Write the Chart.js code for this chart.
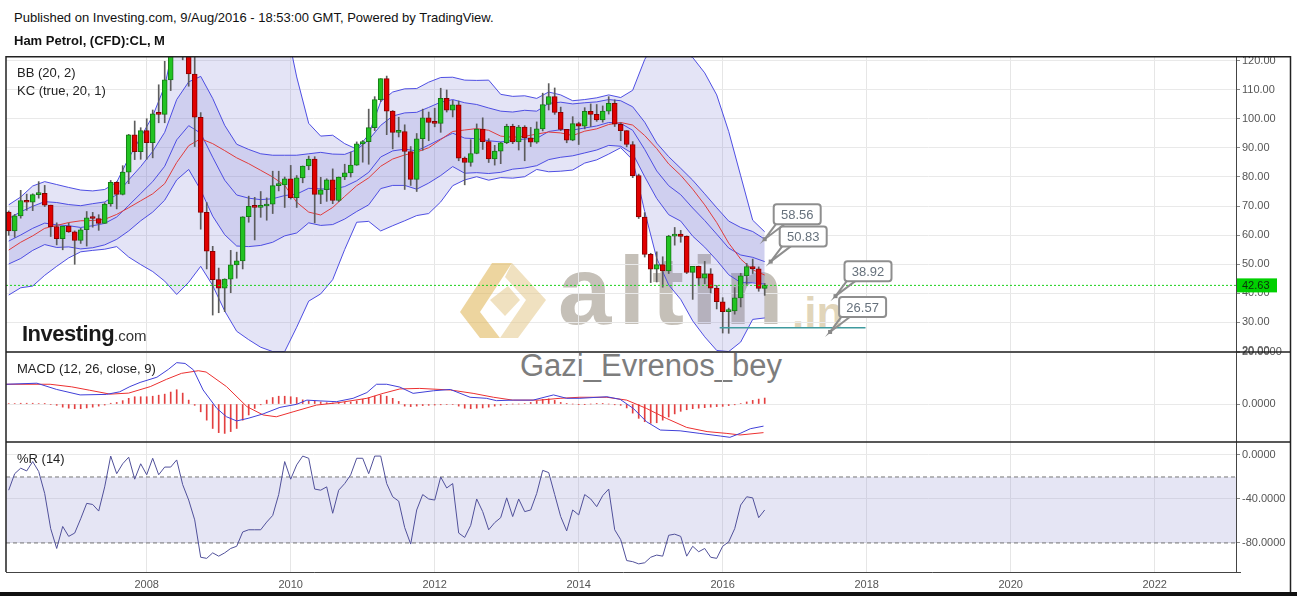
<!DOCTYPE html>
<html>
<head>
<meta charset="utf-8">
<script src="https://cdn.jsdelivr.net/npm/chart.js@4"></script>
<style>
body { margin: 0; width: 1297px; height: 596px; position: relative; overflow: hidden; background: #fff; font-family: Arial, "Liberation Sans", sans-serif; }
.t { position: absolute; white-space: nowrap; }
#c { position: absolute; left: 0; top: 56px; z-index: 1; }
.back { z-index: 0; }
.front { z-index: 2; }
</style>
</head>
<body>
<div class="t front" style="left:14px;top:10px;font-size:13px;color:#111">Published on Investing.com, 9/Aug/2016 - 18:53:00 GMT, Powered by TradingView.</div>
<div class="t front" style="left:14px;top:33px;font-size:13px;font-weight:bold;color:#111">Ham Petrol, (CFD):CL, M</div>

<div class="t back" style="left:558px;top:236px;font-size:96px;font-weight:bold;color:rgba(150,140,125,0.55);letter-spacing:7px">altin</div>
<div class="t back" style="left:792px;top:288px;font-size:44px;font-weight:bold;color:rgba(205,185,140,0.6)">.in</div>
<div class="t back" style="left:520px;top:348px;font-size:31px;color:#7d7d7d">Gazi_Evrenos_bey</div>

<canvas id="c" width="1297" height="536"></canvas>

<div class="t front" style="left:17px;top:65px;font-size:13px;color:#222">BB (20, 2)</div>
<div class="t front" style="left:17px;top:83px;font-size:13px;color:#222">KC (true, 20, 1)</div>
<div class="t front" style="left:17px;top:361px;font-size:13px;color:#222">MACD (12, 26, close, 9)</div>
<div class="t front" style="left:17px;top:451px;font-size:13px;color:#222">%R (14)</div>
<div class="t front" style="left:22px;top:321px;font-size:22px;font-weight:bold;color:#1a1a1a;letter-spacing:-0.5px">Investing<span style="font-size:15px;font-weight:normal;color:#333;letter-spacing:0">.com</span></div>
<div style="position:absolute;left:0;top:592px;width:1297px;height:4px;background:#111"></div>

<script>
// monthly candles, Feb 2006 .. Aug 2016 (month index 1 = Feb 2006)
const firstMonthIndex = 1;
const openP = [67.9,61.4,66.6,71.9,71.3,73.9,74.4,70.3,62.9,58.7,63.1,61.1,58.1,61.8,65.9,65.7,64.0,70.7,78.2,74.0,81.7,94.5,88.7,96.0,91.8,101.8,101.6,113.5,127.4,140.0,124.1,115.5,100.6,67.8,54.4,44.6,41.7,44.8,49.7,51.1,66.3,69.9,69.5,70.0,70.6,77.0,77.3,79.4,72.9,79.7,83.8,86.2,74.0,75.6,79.0,71.9,80.0,81.4,84.1,91.4,92.2,97.0,106.7,113.9,102.7,95.4,95.7,88.8,79.2,93.2,100.4,98.8,98.5,107.1,103.0,104.9,86.5,85.0,88.1,96.5,92.2,86.2,88.9,91.8,97.5,92.1,97.2,93.5,92.0,96.6,105.0,107.7,102.3,96.4,92.7,98.4,97.5,102.6,101.6,99.7,102.7,105.4,98.2,96.0,91.2,80.5,66.2,53.3,48.2,49.8,47.6,59.6,60.3,59.5,47.1,49.2,45.1,46.6,41.7,37.0,33.6,33.8,38.3,45.9,49.1,48.3,41.6];
const highP = [68.3,67.1,75.4,74.1,74.2,78.4,77.1,70.3,64.2,62.3,64.1,61.4,62.3,68.1,67.8,67.0,71.1,78.8,78.4,83.9,94.7,99.3,97.0,100.1,103.1,111.8,119.9,135.1,143.7,147.3,126.3,130.0,102.2,71.2,56.1,48.6,44.9,54.7,54.1,66.3,73.4,73.0,75.0,72.8,82.0,82.0,80.0,84.0,80.5,83.8,87.2,87.0,79.9,79.4,82.8,80.0,84.4,88.6,92.1,92.6,103.4,107.7,113.9,114.8,102.9,100.6,98.0,90.5,95.0,103.4,102.4,103.7,110.6,110.0,106.4,106.2,86.9,92.9,98.3,100.4,93.2,90.9,92.0,98.2,98.2,97.8,97.7,97.1,99.0,108.9,112.2,110.7,104.1,96.4,100.8,98.9,103.9,105.2,105.0,104.5,107.7,106.6,98.7,96.0,92.2,81.0,67.7,53.7,54.2,52.5,59.9,62.6,61.6,59.7,49.2,49.3,50.9,48.4,42.6,38.4,34.8,41.9,46.8,50.2,51.7,49.0,43.3];
const lowP = [59.9,59.2,65.8,68.5,68.4,72.7,69.8,59.5,56.6,54.9,60.9,49.9,57.1,56.2,62.7,61.6,64.0,69.9,69.0,73.8,77.7,86.0,86.1,86.1,86.6,98.7,98.7,109.8,121.6,120.4,111.3,90.5,62.0,48.3,32.4,33.2,33.6,40.1,45.1,48.3,64.4,58.3,66.1,65.1,67.4,75.2,69.5,72.4,69.5,78.0,82.5,64.2,70.8,71.6,70.8,71.5,79.1,80.0,84.0,85.1,84.4,96.0,106.0,94.6,89.7,93.8,75.7,77.1,75.0,89.2,92.5,97.3,95.4,102.4,100.7,85.6,77.3,83.7,88.0,89.5,85.0,84.1,84.6,91.5,91.5,89.3,85.6,90.5,91.6,95.9,103.1,101.6,96.0,91.8,92.5,91.2,96.6,97.4,99.2,98.9,101.7,97.4,92.5,90.4,79.8,65.7,52.4,43.6,43.8,42.0,46.7,56.5,57.5,46.7,37.8,42.6,43.2,40.0,34.5,26.2,26.1,32.7,35.2,43.0,46.7,40.6,39.2];
const closeP = [61.4,66.6,71.9,71.3,73.9,74.4,70.3,62.9,58.7,63.1,61.1,58.1,61.8,65.9,65.7,64.0,70.7,78.2,74.0,81.7,94.5,88.7,96.0,91.8,101.8,101.6,113.5,127.4,140.0,124.1,115.5,100.6,67.8,54.4,44.6,41.7,44.8,49.7,51.1,66.3,69.9,69.5,70.0,70.6,77.0,77.3,79.4,72.9,79.7,83.8,86.2,74.0,75.6,79.0,71.9,80.0,81.4,84.1,91.4,92.2,97.0,106.7,113.9,102.7,95.4,95.7,88.8,79.2,93.2,100.4,98.8,98.5,107.1,103.0,104.9,86.5,85.0,88.1,96.5,92.2,86.2,88.9,91.8,97.5,92.1,97.2,93.5,92.0,96.6,105.0,107.7,102.3,96.4,92.7,98.4,97.5,102.6,101.6,99.7,102.7,105.4,98.2,96.0,91.2,80.5,66.2,53.3,48.2,49.8,47.6,59.6,60.3,59.5,47.1,49.2,45.1,46.6,41.7,37.0,33.6,33.8,38.3,45.9,49.1,48.3,41.6,42.63];

// BB (20, 2) and KC (true, 20, 1) lines, read every second month (1, 3, 5 ... 127)
const bbUpper = [70.4,73.1,76.9,78.4,77.4,76.4,75.5,75.2,75.7,78.2,86.5,93.7,101.0,111.3,130.4,137.8,137.2,140.5,144.5,146.3,145.2,143.3,140.4,134.4,114.5,98.5,94.1,94.4,91.5,89.6,94.6,106.0,109.3,110.4,110.5,112.7,114.3,114.4,113.4,113.3,113.4,108.5,107.8,108.0,107.1,109.3,108.3,106.3,106.7,107.3,108.3,107.4,109.9,120.5,127.5,126.2,123.3,121.2,115.9,108.3,95.7,80.4,65.1,61.1];
const bbBasis = [54.8,57.5,59.7,62.3,63.3,64.3,64.9,65.0,65.4,67.1,69.4,71.8,74.2,77.7,85.0,90.8,93.2,91.5,89.1,86.6,84.6,82.3,80.0,77.1,71.3,67.9,66.9,69.5,73.3,77.0,79.7,83.7,86.2,87.6,88.6,90.1,92.9,95.7,96.2,96.7,96.1,94.1,93.7,94.0,94.8,95.5,95.2,94.3,95.8,96.6,98.1,98.8,97.9,94.3,89.8,84.5,80.6,75.8,70.4,64.3,57.2,51.7,48.0,46.2];
const bbLower = [39.3,41.8,42.4,46.1,49.2,52.1,54.2,54.7,55.1,56.0,52.4,49.8,47.4,44.1,39.5,43.7,49.2,42.6,33.8,26.8,23.9,21.3,19.8,19.8,28.2,37.2,39.7,44.6,55.0,64.4,64.7,61.4,63.2,64.9,66.7,67.4,71.4,77.0,79.0,80.1,78.9,79.8,79.6,80.1,82.6,81.8,82.0,82.4,84.8,85.9,87.9,90.1,85.9,68.1,52.0,42.8,37.8,30.4,24.9,20.2,19.8,23.1,30.9,31.4];
const kcUpper = [65.7,68.0,69.9,71.5,71.2,70.5,70.1,70.8,71.4,73.9,79.0,83.6,88.8,95.4,106.7,112.8,114.7,107.1,97.8,91.3,89.5,88.0,87.5,87.5,87.5,88.0,88.5,87.9,87.8,89.4,92.8,97.8,101.0,102.1,102.3,104.0,105.8,106.7,105.6,105.0,103.8,102.7,102.4,103.0,102.7,105.4,105.8,105.2,105.6,105.9,106.7,106.3,104.2,98.9,91.7,87.0,83.0,78.9,74.2,69.4,64.8,62.6,61.2,58.56];
const kcBasis = [57.9,60.0,62.3,64.1,63.5,63.2,62.6,63.2,64.0,66.2,70.2,74.3,78.4,83.7,92.8,97.7,95.1,86.8,78.9,73.8,72.7,72.2,72.5,73.6,74.1,76.1,75.9,75.8,76.7,78.7,81.6,86.9,89.0,89.6,89.0,91.0,93.1,95.1,93.4,93.2,92.5,92.1,92.6,93.1,93.3,95.7,96.3,96.2,96.9,97.6,98.8,98.5,96.1,89.5,82.1,77.0,73.9,69.3,65.0,60.3,55.5,53.1,52.3,50.83];
const kcLower = [50.0,51.9,54.7,56.7,55.7,55.9,55.2,55.6,56.6,58.5,61.4,64.9,67.9,72.0,79.0,82.6,75.5,66.5,60.1,56.2,56.0,56.4,57.5,59.7,60.7,64.2,63.3,63.6,65.5,68.1,70.4,76.0,77.1,77.1,75.8,77.9,80.5,83.6,81.3,81.5,81.2,81.6,82.7,83.1,83.9,86.0,86.8,87.3,88.3,89.3,90.9,90.6,88.1,80.1,72.6,67.0,64.8,59.6,55.8,51.3,46.3,43.6,43.5,43.1];
const bandMonths = bbBasis.map((v, i) => 1 + 2 * i);

// MACD (12, 26, close, 9), points read as [month index, value]
const macdLine = [[0.6,7.6],[5.7,8.0],[9,5.6],[12.9,3.5],[17.3,3.7],[19.5,4.7],[21.2,6.7],[22.9,8.3],[25.7,10.3],[27.6,13.3],[29,15.9],[30.4,15.6],[31.8,13.1],[33.4,5.4],[35.7,-1.7],[37.3,-4.9],[39,-6.5],[40.9,-5.5],[43.4,-3.8],[46.2,-1.3],[49,-0.1],[50.7,1.5],[52.9,1.2],[55.6,0.9],[58.4,2.2],[60.7,4.4],[62.3,7.6],[64,7.6],[66.2,6.5],[68.4,4.1],[71.8,5.1],[74.6,5.6],[77.9,2.6],[80.6,2.2],[82.3,1.3],[85.1,1.5],[88.4,1.5],[91.8,3.5],[94,2.2],[96.2,2.2],[100.7,2.8],[102.9,1.8],[105.1,-1.7],[107.3,-6.8],[109.6,-10],[112.9,-10.3],[116.2,-11.3],[119.6,-12.3],[121.2,-12.8],[122.9,-11.3],[124.6,-9.5],[126.8,-8.5]];
const signalLine = [[0.6,7.6],[7.9,7.6],[11.5,6.6],[14.5,5.3],[17.9,3.8],[21,4.2],[24.6,6.7],[27.3,9.5],[29.8,11.8],[32.6,12.8],[33.9,12.3],[37.3,6.7],[40.7,-1],[43.4,-4.2],[45.6,-4.9],[48.4,-3],[52.3,-0.4],[56.2,0.6],[60.7,2.2],[63.4,4.1],[66.2,5.8],[69.5,6.0],[74.6,5.4],[78.4,4.1],[81.8,2.6],[85,1.5],[89.5,1.5],[92.9,2.2],[96.2,2.6],[100.7,2.6],[104,1.5],[107.3,-1.7],[110.6,-5.5],[114,-9],[117.4,-10.6],[120.7,-11.3],[122.9,-11.9],[126.8,-11]];
const macdHist = [0.2,0.2,0.3,0.3,0.3,0.2,0.1,-0.2,-0.5,-1.2,-1.6,-1.8,-1.8,-1.5,-1.2,-0.8,-0.4,0.3,0.6,1.3,2.2,2.8,2.8,2.8,3.0,3.4,3.8,4.6,5.5,4.2,1.5,-0.5,-3,-6.2,-9.4,-11,-11.3,-10.6,-9.4,-6.2,-4.2,-1.7,-0.3,1.5,2.5,3.0,3.0,2.8,2.5,1.6,1.2,1.2,0.8,0.5,0.4,0.5,0.6,0.8,1.2,1.8,2.4,3.0,3.4,3.0,2.2,1.0,-0.8,-1.0,-0.8,-0.6,-0.5,-0.4,-0.3,-0.2,-0.2,-0.8,-1.6,-1.8,-1.6,-1.5,-1.2,-0.8,-0.5,-0.2,0,0,0.2,0.6,1.2,1.8,2.0,1.4,0.6,0.1,0,-0.1,-0.1,0,0.1,0.1,0,-0.3,-0.5,-1.5,-3.5,-5.5,-6.8,-7.4,-7.2,-6.2,-5,-3.8,-2.8,-2.2,-1.8,-1.6,-1.4,-1.2,-1.0,-0.9,-0.6,-0.3,0.2,0.8,1.4,1.9,2.3,2.6];

// Williams %R (14), one value per candle
const willR = [-32,-17,-12,-14.5,-6,-15,-35,-67,-85,-65,-74,-71,-58,-44,-45,-51,-29,-1,-17,-8,-2,-22,-8,-18,-3,-18,-11,-11,-4.5,-27,-41,-59,-93,-94,-89,-92,-89,-85,-83,-70,-68,-68,-68,-61,-55,-36,-6,-22,-9,-1,-3,-31,-32,-29,-53,-32,-26,-18,-3,-3,-17,-1,-1,-26,-38,-42,-66,-81,-50,-36,-40,-41,-20,-30,-26,-71,-75,-64,-40,-51.5,-68,-61.5,-57,-39,-56,-40,-51.5,-50,-35,-14,-16,-36,-56,-69,-50,-54.5,-36,-40,-47,-37,-31,-68,-77,-96,-97,-99,-98,-93,-91,-92,-73,-72,-74,-92,-83,-88,-85,-93,-94,-83,-79,-67,-45.5,-38,-39,-57,-50];
const willRLevels = [-20, -80];

const lastPrice = 42.63;
const supportPrice = 28.0;
const supportFrom = 119.5, supportTo = 143.8;
const calloutPrices = [58.56, 50.83, 38.92, 26.57];
const calloutMonths = [127, 128, 138.8, 137.9];

const yearTicks = [2008, 2010, 2012, 2014, 2016, 2018, 2020, 2022];
const xMin = 0.55, xMax = 205.55;

const months = closeP.map((c, i) => i + firstMonthIndex);
const band = vals => vals.map((v, i) => ({x: bandMonths[i], y: v}));
const pairs = arr => arr.map(p => ({x: p[0], y: p[1]}));

const blue = 'rgba(70,70,225,0.95)';
const bandFill = 'rgba(120,120,210,0.2)';

const datasets = [
    {data: band(bbUpper), borderColor: blue, fill: {target: 1}, backgroundColor: bandFill, order: 20, yAxisID: 'y'},
    {data: band(bbLower), borderColor: blue, order: 19, yAxisID: 'y'},
    {data: band(kcUpper), borderColor: blue, fill: {target: 3}, backgroundColor: bandFill, order: 18, yAxisID: 'y'},
    {data: band(kcLower), borderColor: blue, order: 17, yAxisID: 'y'},
    {data: band(kcBasis), borderColor: blue, order: 16, yAxisID: 'y'},
    {data: band(bbBasis), borderColor: '#e03c3c', order: 15, yAxisID: 'y'},
    {type: 'bar', data: months.map((m, i) => ({x: m, y: [lowP[i], highP[i]]})), backgroundColor: '#5c5c5c',
        barThickness: 1, grouped: false, order: 5, yAxisID: 'y'},
    {type: 'bar', data: months.map((m, i) => ({x: m, y: [openP[i], closeP[i]]})),
        backgroundColor: months.map((m, i) => closeP[i] >= openP[i] ? '#22c322' : '#e00000'),
        borderColor: months.map((m, i) => closeP[i] >= openP[i] ? '#167a16' : '#8a0000'),
        borderWidth: 1, borderSkipped: false, barThickness: 5, minBarLength: 2, grouped: false, order: 4, yAxisID: 'y'},
    {data: [{x: xMin, y: lastPrice}, {x: xMax, y: lastPrice}], borderColor: '#19d119', borderWidth: 1, borderDash: [2, 2], order: 1, yAxisID: 'y'},
    {data: [{x: supportFrom, y: supportPrice}, {x: supportTo, y: supportPrice}], borderColor: '#3f9a9e', borderWidth: 1.5, order: 1, yAxisID: 'y'},
    {type: 'bar', data: months.map((m, i) => ({x: m, y: macdHist[i]})), backgroundColor: '#e34040',
        barThickness: 1, grouped: false, order: 7, yAxisID: 'yMacd'},
    {data: pairs(macdLine), borderColor: '#4040d8', order: 3, yAxisID: 'yMacd'},
    {data: pairs(signalLine), borderColor: '#ec3030', order: 3, yAxisID: 'yMacd'},
    {data: [{x: xMin, y: willRLevels[0]}, {x: xMax, y: willRLevels[0]}], borderColor: '#777', borderDash: [4, 3],
        fill: {target: 14}, backgroundColor: 'rgba(150,150,210,0.25)', order: 12, yAxisID: 'yR'},
    {data: [{x: xMin, y: willRLevels[1]}, {x: xMax, y: willRLevels[1]}], borderColor: '#777', borderDash: [4, 3], order: 11, yAxisID: 'yR'},
    {data: months.map((m, i) => ({x: m, y: willR[i]})), borderColor: '#50509a', order: 2, yAxisID: 'yR'}
];

const tickFont = {family: 'Arial, "Liberation Sans", sans-serif', size: 11};

function yAxis(weight, min, max, values, digits) {
    return {
        type: 'linear', position: 'right', stack: 'panels', stackWeight: weight, min: min, max: max,
        grid: {color: '#e9e9e9', tickColor: '#888', tickLength: 4},
        border: {color: '#444'},
        ticks: {color: '#555', font: tickFont, padding: 2, autoSkip: false, callback: v => v.toFixed(digits)},
        afterBuildTicks: s => { s.ticks = values.map(v => ({value: v})); },
        afterFit: s => { s.width = 55; s.paddingTop = 0; s.paddingBottom = 0; }
    };
}

const frame = {
    id: 'frame',
    beforeDatasetsDraw(chart) {
        // altin.in logo mark
        const ctx = chart.ctx;
        ctx.save();
        ctx.translate(0, -56);
        ctx.fillStyle = 'rgba(222,178,80,0.55)';
        ctx.beginPath();
        ctx.moveTo(460, 312); ctx.lineTo(492, 263); ctx.lineTo(512, 263); ctx.lineTo(480, 312);
        ctx.lineTo(500, 338); ctx.lineTo(480, 338); ctx.closePath(); ctx.fill();
        ctx.fillStyle = 'rgba(228,200,140,0.55)';
        ctx.beginPath();
        ctx.moveTo(512, 263); ctx.lineTo(546, 300); ctx.lineTo(518, 338); ctx.lineTo(500, 338);
        ctx.lineTo(526, 300); ctx.lineTo(505, 277); ctx.closePath(); ctx.fill();
        ctx.beginPath();
        ctx.moveTo(490, 300); ctx.lineTo(508, 286); ctx.lineTo(520, 300); ctx.lineTo(505, 316); ctx.closePath(); ctx.fill();
        ctx.restore();
    },
    afterDraw(chart) {
        const {ctx, chartArea: a, scales} = chart;
        const right = chart.width - 6.5;
        ctx.save();
        // price tag on the axis
        const py = scales.y.getPixelForValue(lastPrice);
        ctx.fillStyle = '#00d000';
        ctx.fillRect(a.right + 1, py - 7, 40, 14);
        ctx.fillStyle = '#0b2e0b';
        ctx.font = '11px Arial, "Liberation Sans", sans-serif';
        ctx.textBaseline = 'middle';
        ctx.fillText(lastPrice.toFixed(2), a.right + 6, py + 0.5);

        // callouts
        calloutPrices.forEach((p, i) => {
            const ax = scales.x.getPixelForValue(calloutMonths[i]);
            const ay = scales.y.getPixelForValue(p);
            const bx = ax + 9, by = ay - 35, w = 47, h = 20;
            ctx.strokeStyle = '#8e8e8e';
            ctx.lineWidth = 2;
            ctx.fillStyle = '#fff';
            ctx.beginPath();
            ctx.moveTo(bx + 3, by + h - 1);
            ctx.lineTo(ax, ay);
            ctx.lineTo(bx + 12, by + h - 1);
            ctx.stroke();
            ctx.beginPath();
            ctx.roundRect(bx, by, w, h, 3);
            ctx.fill();
            ctx.stroke();
            ctx.fillStyle = '#888';
            ctx.fillRect(ax - 2, ay - 2, 4, 4);
            ctx.fillStyle = '#66717c';
            ctx.font = '13px Arial, "Liberation Sans", sans-serif';
            ctx.textAlign = 'center';
            ctx.fillText(p.toFixed(2), bx + w / 2, by + h / 2 + 1);
            ctx.textAlign = 'left';
        });

        // frame and panel separators
        ctx.strokeStyle = '#222';
        ctx.lineWidth = 1.5;
        ctx.beginPath();
        ctx.moveTo(a.left, a.bottom); ctx.lineTo(a.left, 0.75); ctx.lineTo(right, 0.75); ctx.lineTo(right, chart.height);
        [scales.yMacd.top, scales.yR.top].forEach(y => { ctx.moveTo(a.left, y); ctx.lineTo(right, y); });
        ctx.stroke();
        ctx.lineWidth = 1;
        ctx.strokeStyle = '#444';
        ctx.beginPath();
        ctx.moveTo(a.left, a.bottom + 0.5); ctx.lineTo(a.right + 5, a.bottom + 0.5);
        ctx.stroke();
        ctx.restore();
    }
};

new Chart(document.getElementById('c'), {
    type: 'line',
    data: {datasets: datasets},
    options: {
        responsive: false,
        animation: false,
        layout: {padding: {left: 6, right: 6, top: 0, bottom: 0}},
        plugins: {legend: {display: false}, tooltip: {enabled: false}},
        elements: {point: {radius: 0}, line: {borderWidth: 1, tension: 0}},
        scales: {
            x: {
                type: 'linear', position: 'bottom', min: xMin, max: xMax, offset: false,
                grid: {color: '#e6e6e6', drawTicks: false, offset: false},
                border: {display: false},
                ticks: {color: '#555', font: tickFont, padding: 6, maxRotation: 0, autoSkip: false,
                    callback: v => String(2006 + v / 12)},
                afterBuildTicks: s => { s.ticks = yearTicks.map(yr => ({value: (yr - 2006) * 12})); },
                afterFit: s => { s.height = 20; s.paddingLeft = 0; s.paddingRight = 0; }
            },
            y: yAxis(296, 19.66, 121.72, [20, 30, 40, 50, 60, 70, 80, 90, 100, 110, 120], 2),
            yMacd: yAxis(90, -14.6, 20, [0, 20], 4),
            yR: yAxis(130, -106.4, 11.8, [0, -40, -80], 4)
        }
    },
    plugins: [frame]
});
</script>
</body>
</html>
